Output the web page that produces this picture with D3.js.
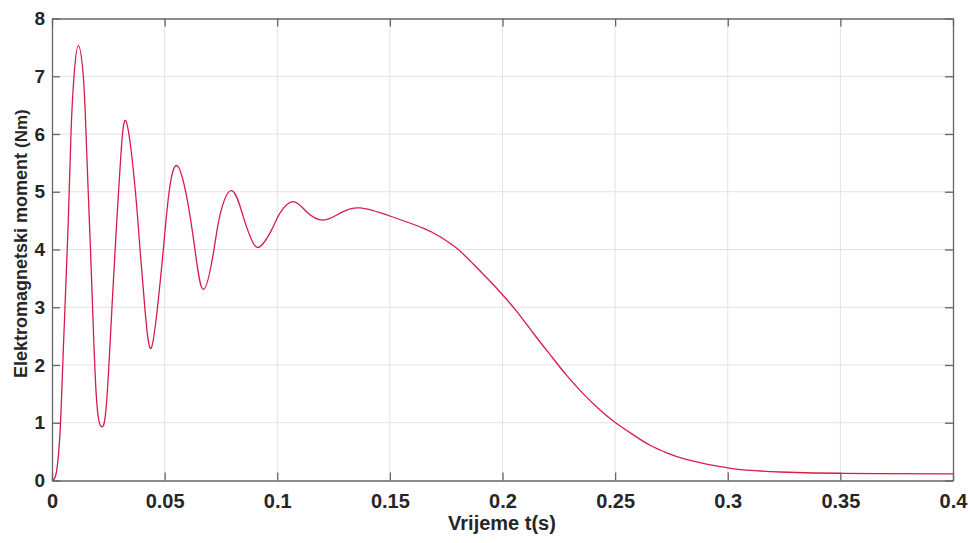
<!DOCTYPE html>
<html>
<head>
<meta charset="utf-8">
<script src="https://cdn.jsdelivr.net/npm/d3@7"></script>
<style>
  html, body { margin: 0; padding: 0; background: #fff; }
  svg { display: block; font-family: "Liberation Sans", Arial, Helvetica, sans-serif; }
</style>
</head>
<body>
<svg id="chart" width="973" height="543"></svg>
<script>
// Time (s)
const timeValues = [
  0, 0.0010, 0.0021, 0.00355, 0.00474, 0.00577, 0.00724, 0.00843, 0.00977, 0.01168,
  0.0139, 0.0151, 0.01657, 0.0179, 0.0198, 0.0222, 0.0243, 0.0268, 0.0287, 0.0306,
  0.0330, 0.0368, 0.0391, 0.0413, 0.0440, 0.0472, 0.0494, 0.0521, 0.0556, 0.0598,
  0.0635, 0.0672, 0.0716, 0.0746, 0.0798, 0.0849, 0.0887, 0.0923, 0.0975, 0.1012,
  0.1071, 0.1131, 0.1205, 0.1279, 0.1367, 0.15, 0.1648, 0.1723, 0.1797, 0.1870,
  0.1945, 0.2004, 0.2063, 0.2137, 0.2211, 0.2285, 0.2359, 0.2433, 0.2502, 0.2581,
  0.2655, 0.2729, 0.2803, 0.2877, 0.2936, 0.3006, 0.3084, 0.3232, 0.338, 0.3506,
  0.367, 0.4
];
// Electromagnetic torque (Nm)
const torqueValues = [
  0, 0.03, 0.18, 0.82, 1.97, 3.0, 4.51, 6.01, 7.0, 7.53,
  7.0, 6.01, 4.51, 3.13, 1.39, 0.93, 1.39, 3.13, 4.45, 5.65,
  6.21, 5.1, 3.99, 2.95, 2.29, 3.13, 3.99, 5.03, 5.45, 4.91,
  3.99, 3.31, 3.93, 4.6, 5.02, 4.57, 4.16, 4.05, 4.34, 4.63,
  4.83, 4.65, 4.51, 4.63, 4.72, 4.58, 4.37, 4.22, 4.02, 3.75,
  3.45, 3.20, 2.93, 2.55, 2.18, 1.82, 1.50, 1.22, 1.0, 0.79,
  0.61, 0.48, 0.38, 0.31, 0.26, 0.215, 0.18, 0.147, 0.13, 0.125,
  0.12, 0.113
];
const xTicks = [0, 0.05, 0.1, 0.15, 0.2, 0.25, 0.3, 0.35, 0.4];
const xTickLabels = ["0", "0.05", "0.1", "0.15", "0.2", "0.25", "0.3", "0.35", "0.4"];
const yTicks = [0, 1, 2, 3, 4, 5, 6, 7, 8];
const yTickLabels = ["0", "1", "2", "3", "4", "5", "6", "7", "8"];
const xLabel = "Vrijeme t(s)";
const yLabelMain = "Elektromagnetski moment  ";
const yLabelUnit = "(Nm)";

const data = timeValues.map((t, i) => ({ t, v: torqueValues[i] }));

const padL = 52, padR = 953, padT = 18.5, padB = 480.5;
const svg = d3.select("#chart");
const x = d3.scaleLinear().domain([0, 0.4]).range([padL, padR]);
const y = d3.scaleLinear().domain([0, 8]).range([padB, padT]);

const axisColor = "#666666";
const textColor = "#262626";

// grid
const grid = svg.append("g");
grid.selectAll("line.vx").data(xTicks.slice(1, -1)).join("line")
  .attr("x1", d => x(d)).attr("x2", d => x(d))
  .attr("y1", padT).attr("y2", padB)
  .attr("stroke", "#e3e3e3").attr("stroke-width", 1);
grid.selectAll("line.hy").data(yTicks.slice(1, -1)).join("line")
  .attr("x1", padL).attr("x2", padR)
  .attr("y1", d => y(d)).attr("y2", d => y(d))
  .attr("stroke", "#e3e3e3").attr("stroke-width", 1);

// line
const line = d3.line().x(d => x(d.t)).y(d => y(d.v)).curve(d3.curveNatural);
svg.append("path").datum(data)
  .attr("d", line)
  .attr("fill", "none")
  .attr("stroke", "#d81b48")
  .attr("stroke-width", 1.3);

// axes (box with inward ticks)
const tickLen = 8;
const xAxisB = d3.axisBottom(x).tickValues(xTicks).tickFormat((d, i) => xTickLabels[i]).tickSizeInner(-tickLen).tickSizeOuter(0).tickPadding(13);
const xAxisT = d3.axisTop(x).tickValues(xTicks).tickFormat("").tickSizeInner(-tickLen).tickSizeOuter(0);
const yAxisL = d3.axisLeft(y).tickValues(yTicks).tickFormat((d, i) => yTickLabels[i]).tickSizeInner(-tickLen).tickSizeOuter(0).tickPadding(7);
const yAxisR = d3.axisRight(y).tickValues(yTicks).tickFormat("").tickSizeInner(-tickLen).tickSizeOuter(0);

function style(g, size) {
  g.select(".domain").attr("stroke", axisColor).attr("stroke-width", 1.3);
  g.selectAll(".tick line").attr("stroke", axisColor).attr("stroke-width", 1.3);
  g.selectAll(".tick text").attr("fill", textColor)
    .style("font-size", size + "px").style("font-weight", "bold")
    .style("font-family", "'Liberation Sans', Arial, sans-serif");
}
svg.append("g").attr("transform", `translate(0,${padB})`).call(xAxisB).call(style, 20);
svg.append("g").attr("transform", `translate(0,${padT})`).call(xAxisT).call(style, 20);
svg.append("g").attr("transform", `translate(${padL},0)`).call(yAxisL).call(style, 19);
svg.append("g").attr("transform", `translate(${padR},0)`).call(yAxisR).call(style, 19);

// labels
svg.append("text")
  .attr("x", 502).attr("y", 530)
  .attr("text-anchor", "middle")
  .attr("fill", textColor)
  .style("font-size", "20px").style("font-weight", "bold")
  .text(xLabel);

const yl = svg.append("text")
  .attr("transform", `translate(27,378) rotate(-90)`)
  .attr("text-anchor", "start")
  .attr("fill", textColor)
  .style("font-size", "18px").style("font-weight", "bold");
yl.append("tspan").text(yLabelMain);
yl.append("tspan").style("font-size", "17px").text(yLabelUnit);
</script>
</body>
</html>
